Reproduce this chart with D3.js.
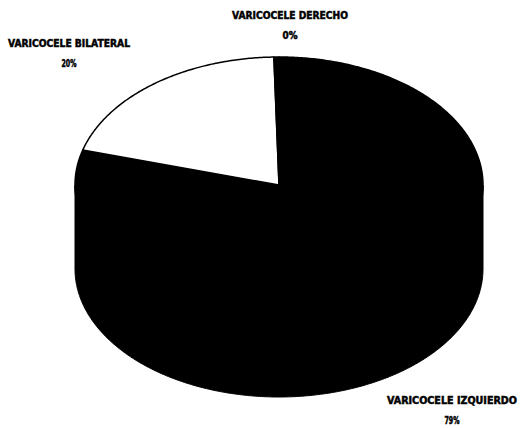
<!DOCTYPE html>
<html>
<head>
<meta charset="utf-8">
<script src="https://cdn.jsdelivr.net/npm/d3@7"></script>
<style>
  html, body { margin: 0; padding: 0; background: #fff; }
  svg { display: block; }
  text { font-family: "DejaVu Sans Condensed", "Liberation Sans Narrow", sans-serif; font-weight: bold; fill: #000; stroke: #000; stroke-width: 0.5; }
</style>
</head>
<body>
<svg id="chart" width="521" height="428"></svg>
<script>
// Slice order follows the drawing order of the pie (clockwise from 12 o'clock)
const categories = ["VARICOCELE IZQUIERDO", "VARICOCELE BILATERAL", "VARICOCELE DERECHO"];
const values = [79.4, 20.2, 0.4];
const colors = ["#000000", "#ffffff", "#000000"];

const W = 521, H = 428;
const cx = 279, cy = 185;   // centre of the top face
const rx = 204, ry = 128;   // ellipse radii of the top face
const depth = 84;           // thickness of the disc

const svg = d3.select("#chart");

const pie = d3.pie().sort(null).value(d => d.value);
const arcs = pie(categories.map((c, i) => ({ name: c, value: values[i], color: colors[i] })));

// point on the ellipse for an angle measured clockwise from the top
const px = a => cx + rx * Math.sin(a);
const py = (a, dz = 0) => cy - ry * Math.cos(a) + dz;

function sample(a0, a1) {
  const n = Math.max(2, Math.ceil(Math.abs(a1 - a0) / 0.01));
  return d3.range(n + 1).map(i => a0 + (a1 - a0) * i / n);
}

// side walls: only the front half (PI/2 .. 3PI/2) is visible
const sideG = svg.append("g");
arcs.forEach(d => {
  const s = Math.max(d.startAngle, Math.PI / 2);
  const e = Math.min(d.endAngle, 3 * Math.PI / 2);
  if (e <= s) return;
  const top = sample(s, e);
  const pts = top.map(a => [px(a), py(a)])
    .concat(top.slice().reverse().map(a => [px(a), py(a, depth)]));
  sideG.append("path")
    .attr("d", d3.line()(pts) + "Z")
    .attr("fill", "#000")
    .attr("stroke", "#000")
    .attr("stroke-width", 1);
});

// top face slices
const topG = svg.append("g");
arcs.forEach(d => {
  const pts = [[cx, cy]].concat(sample(d.startAngle, d.endAngle).map(a => [px(a), py(a)]));
  topG.append("path")
    .attr("d", d3.line()(pts) + "Z")
    .attr("fill", d.data.color)
    .attr("stroke", "#000")
    .attr("stroke-width", 1.5)
    .attr("stroke-linejoin", "round");
});

// labels
const fmt = v => Math.round(v) + "%";
const labelPos = {
  "VARICOCELE DERECHO":   { x: 290, y: 19, w: 116 },
  "VARICOCELE BILATERAL": { x: 69,  y: 47, w: 122 },
  "VARICOCELE IZQUIERDO": { x: 452, y: 404, w: 130 }
};
const labG = svg.append("g").attr("text-anchor", "middle");
arcs.forEach(d => {
  const p = labelPos[d.data.name];
  labG.append("text")
    .attr("x", p.x).attr("y", p.y)
    .attr("font-size", 11)
    .attr("textLength", p.w)
    .attr("lengthAdjust", "spacingAndGlyphs")
    .text(d.data.name);
  labG.append("text")
    .attr("x", p.x).attr("y", p.y + 20)
    .attr("font-size", 10)
    .attr("textLength", 15)
    .attr("lengthAdjust", "spacingAndGlyphs")
    .text(fmt(d.data.value));
});
</script>
</body>
</html>
